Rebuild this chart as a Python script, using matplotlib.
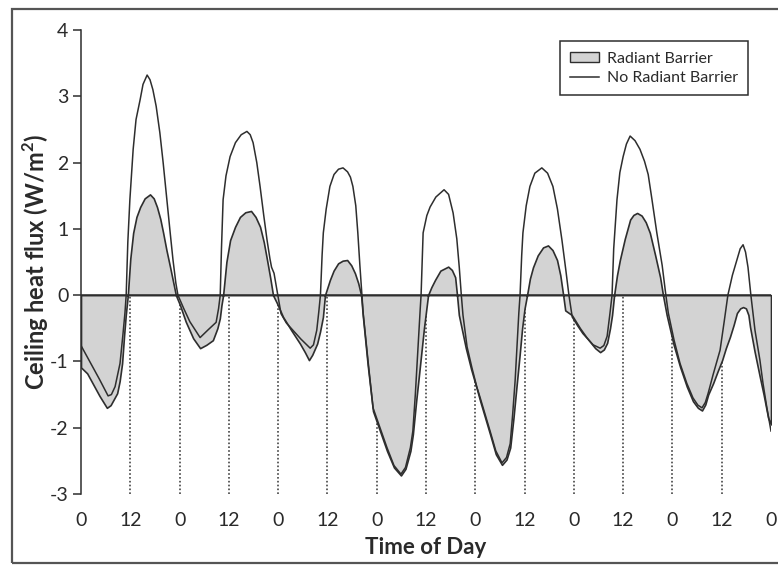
import matplotlib
matplotlib.use("Agg")
import matplotlib.pyplot as plt
from matplotlib.patches import Patch, Rectangle
from matplotlib.lines import Line2D

plt.rcParams['font.family'] = ['Lato', 'DejaVu Sans']

# ---- data (hours since start, ceiling heat flux W/m2) ----
hours_norb = [0, 1.5, 3.0, 4.5, 6.0, 6.6, 7.4, 8.3, 9.5, 10.2, 10.7, 11.0, 11.4, 11.9, 12.7, 13.4, 14.4, 15.1,
              16.1, 16.8, 17.5, 18.3, 19.2, 20.0, 20.9, 21.7, 22.4, 23.1, 23.6, 25.0, 26.5, 29.0, 31.0, 32.9,
              33.5, 33.9, 34.2, 34.6, 35.3, 36.3, 37.6, 39.0, 40.4, 41.2, 41.9, 42.8, 43.6, 44.5, 45.3, 46.0,
              46.4, 47.0, 47.5, 47.9, 48.7, 50.0, 51.6, 53.5, 55.8, 56.6, 57.4, 57.9, 58.3, 58.7, 59.0, 59.7, 60.6,
              61.6, 62.7, 63.8, 64.9, 65.6, 66.2, 66.9, 67.4, 67.9, 68.4, 68.7, 69.9, 71.1, 72.8, 74.5, 76.2,
              77.9, 79.0, 80.2, 80.8, 81.4, 82.05, 82.6, 82.8, 83.3, 84.2, 85.0, 86.4, 88.4, 89.5, 90.6, 91.5,
              92.1, 92.6, 93.0, 94.0, 95.2, 96.4, 97.2, 98.4, 99.6, 101.0, 102.5, 103.6, 104.5, 105.1, 105.7,
              106.3, 106.6, 106.9, 107.3, 107.6, 108.4, 109.3, 110.5, 112.2, 113.6, 114.9, 116.0, 117.1, 118.0,
              118.8, 119.6, 121.0, 122.2, 124.7, 126.4, 127.3, 128.1, 128.8, 129.3, 129.7, 130.5, 131.2, 132.0,
              132.8, 133.7, 134.9, 136.1, 137.2, 138.1, 139.0, 140.2, 141.5, 142.4, 143.0, 144.4, 145.85, 147.5,
              149.0, 150.2, 151.2, 152.0, 152.7, 153.9, 155.6, 156.6, 157.5, 158.6, 159.7, 160.5, 161.2, 161.8,
              162.4, 163.1, 164.1, 165.3, 166.05, 167.0, 168.0]
flux_norb = [-0.76, -0.93, -1.10, -1.27, -1.45, -1.52, -1.50, -1.38, -1.03, -0.60, -0.27, 0.0, 0.8, 1.44, 2.2, 2.65,
             2.95, 3.18, 3.32, 3.25, 3.1, 2.85, 2.45, 2.0, 1.44, 0.95, 0.53, 0.18, 0.0, -0.2, -0.4, -0.64, -0.52,
             -0.41, -0.2, 0.0, 0.7, 1.44, 1.8, 2.09, 2.3, 2.42, 2.47, 2.42, 2.3, 2.0, 1.64, 1.2, 0.83, 0.55,
             0.42, 0.33, 0.15, 0.0, -0.28, -0.42, -0.53, -0.66, -0.80, -0.75, -0.53, -0.25, 0.0, 0.6, 0.94, 1.3, 1.64,
             1.82, 1.9, 1.92, 1.86, 1.78, 1.64, 1.35, 0.94, 0.45, 0.0, -0.27, -1.0, -1.70, -2.0, -2.3, -2.57, -2.70,
             -2.60, -2.3, -2.05, -1.5, -0.78, -0.2, 0.0, 0.94, 1.2, 1.33, 1.48, 1.59, 1.52, 1.24, 0.85, 0.42, 0.0,
             -0.3, -0.78, -1.1, -1.39, -1.55, -1.8, -2.05, -2.35, -2.53, -2.45, -2.24, -1.8, -1.29, -0.6, -0.27,
             0.0, 0.6, 0.94, 1.35, 1.64, 1.84, 1.92, 1.84, 1.64, 1.3, 0.83, 0.4, 0.0, -0.33, -0.47, -0.58, -0.75,
             -0.80, -0.76, -0.62, -0.27, 0.0, 0.7, 1.44, 1.85, 2.09, 2.28, 2.40, 2.33, 2.2, 2.02, 1.82, 1.45, 0.94,
             0.45, 0.0, -0.27, -0.68, -1.03, -1.33, -1.55, -1.66, -1.70, -1.62, -1.48, -1.2, -0.83, -0.4, 0.0,
             0.3, 0.53, 0.7, 0.76, 0.65, 0.42, 0.0, -0.53, -0.98, -1.33, -1.7, -2.05]

hours_rb = [0, 1.5, 3.0, 4.5, 6.3, 7.2, 8.0, 8.8, 9.4, 10.0, 10.5, 10.9, 11.4, 12.0, 12.7, 13.5, 14.4, 15.5, 16.8,
            17.7, 18.5, 19.3, 20.0, 20.8, 21.7, 22.5, 23.1, 24.1, 25.5, 27.3, 29.0, 30.5, 32.1, 33.2, 33.8, 34.2,
            34.6, 35.4, 36.3, 37.5, 38.7, 40.0, 41.4, 42.5, 43.6, 44.5, 45.3, 46.1, 46.75, 47.7, 49.2, 51.2,
            53.3, 54.5, 55.5, 56.3, 57.5, 58.2, 58.9, 59.4, 60.6, 61.5, 62.6, 63.7, 64.8, 65.8, 66.7, 67.5, 68.2,
            68.6, 69.8, 71.1, 72.8, 74.5, 76.2, 77.9, 79.0, 80.2, 80.8, 81.6, 82.3, 83.5, 84.5, 85.3, 86.2, 87.5,
            89.4, 90.3, 91.1, 91.55, 92.0, 93.7, 95.0, 96.4, 97.2, 98.4, 99.6, 101.0, 102.5, 103.6, 104.5, 105.3,
            106.0, 106.8, 107.4, 108.0, 108.6, 109.3, 110.05, 111.2, 112.5, 113.7, 114.8, 115.9, 116.7, 117.4,
            117.9, 119.5, 120.5, 121.5, 123.0, 123.9, 125.2, 126.4, 127.3, 128.1, 128.8, 129.3, 129.8, 130.5,
            131.2, 132.4, 133.7, 134.5, 135.4, 136.5, 137.5, 138.5, 139.8, 141.0, 141.7, 142.6, 144.3, 145.85,
            147.5, 149.0, 150.2, 151.2, 152.0, 152.7, 153.9, 155.0, 156.1, 157.0, 158.0, 158.9, 159.7, 160.5,
            161.2, 161.9, 162.5, 162.9, 164.0, 165.3, 166.2, 167.3, 168.0]
flux_rb = [-1.09, -1.18, -1.35, -1.52, -1.70, -1.66, -1.57, -1.48, -1.3, -1.03, -0.6, -0.3, 0.0, 0.55, 0.94, 1.18,
           1.33, 1.46, 1.52, 1.46, 1.33, 1.15, 0.94, 0.68, 0.42, 0.18, 0.0, -0.15, -0.4, -0.65, -0.80, -0.75,
           -0.68, -0.5, -0.35, -0.15, 0.0, 0.5, 0.83, 1.03, 1.18, 1.25, 1.27, 1.18, 1.03, 0.8, 0.53, 0.25, 0.0,
           -0.12, -0.33, -0.53, -0.73, -0.86, -0.98, -0.9, -0.73, -0.55, -0.33, 0.0, 0.23, 0.37, 0.48, 0.52, 0.53,
           0.45, 0.33, 0.18, 0.0, -0.3, -1.05, -1.75, -2.05, -2.35, -2.6, -2.72, -2.62, -2.35, -2.1, -1.6, -1.2,
           -0.5, 0.0, 0.12, 0.23, 0.37, 0.43, 0.38, 0.27, 0.0, -0.3, -0.8, -1.12, -1.42, -1.6, -1.85, -2.1, -2.4,
           -2.56, -2.48, -2.3, -1.85, -1.4, -0.9, -0.5, -0.2, 0.0, 0.25, 0.42, 0.6, 0.72, 0.75, 0.68, 0.53, 0.3,
           0.0, -0.23, -0.30, -0.4, -0.5, -0.63, -0.70, -0.8, -0.86, -0.82, -0.72, -0.5, -0.3, 0.0, 0.3, 0.53,
           0.85, 1.14, 1.21, 1.24, 1.2, 1.1, 0.94, 0.6, 0.27, 0.0, -0.3, -0.75, -1.08, -1.38, -1.6, -1.7, -1.74,
           -1.65, -1.5, -1.33, -1.15, -0.98, -0.8, -0.63, -0.45, -0.27, -0.2, -0.18, -0.2, -0.3, -0.48, -0.85,
           -1.24, -1.5, -1.85, -1.95]

x_ticks = [0, 12, 24, 36, 48, 60, 72, 84, 96, 108, 120, 132, 144, 156, 168]
x_tick_labels = ['0', '12', '0', '12', '0', '12', '0', '12', '0', '12', '0', '12', '0', '12', '0']
y_ticks = [-3, -2, -1, 0, 1, 2, 3, 4]
y_tick_labels = ['-3', '-2', '-1', '0', '1', '2', '3', '4']

line_col = '#2e2e2e'
fill_col = '#d3d3d3'
text_col = '#2a2a2a'

fig = plt.figure(figsize=(7.78, 5.66), dpi=100)
fig.patch.set_facecolor('white')

# outer frame
fig.add_artist(Rectangle((12 / 778, 3 / 566), 1.0, 554 / 566, transform=fig.transFigure,
                         fill=False, edgecolor='#555555', lw=1.6, clip_on=False))

ax = fig.add_axes([81 / 778, 1 - 494 / 566, 690 / 778, 464 / 566])
ax.set_xlim(0, 168)
ax.set_ylim(-3, 4)

ax.fill_between(hours_rb, flux_rb, 0, facecolor=fill_col, edgecolor=line_col, lw=1.2, zorder=2)
ax.plot(hours_norb, flux_norb, color=line_col, lw=1.1, zorder=3)
ax.axhline(0, color=line_col, lw=1.1, zorder=4)
ax.vlines(x_ticks[1:-1], -3, 0, colors='#444444', linestyles=(0, (1, 1.3)), lw=1.2, zorder=1)

for s in ['top', 'right', 'bottom']:
    ax.spines[s].set_visible(False)
ax.spines['left'].set_color(line_col)
ax.spines['left'].set_linewidth(1.1)

ax.set_yticks(y_ticks)
ax.set_yticklabels(y_tick_labels, fontsize=14, color=text_col)
ax.tick_params(axis='y', direction='out', length=6, width=1.1, color=line_col, pad=3)
ax.set_xticks(x_ticks)
ax.set_xticklabels(x_tick_labels, fontsize=14, color=text_col)
ax.tick_params(axis='x', length=0, pad=13)

ax.set_xlabel('Time of Day', fontsize=16, fontweight='bold', color=text_col, labelpad=6)
ax.set_ylabel('Ceiling heat flux (W/m$^\\mathregular{2}$)', fontsize=17, fontweight='bold',
              color=text_col)
ax.yaxis.set_label_coords(-0.043, 0.5)

handles = [Patch(facecolor=fill_col, edgecolor=line_col, lw=1.0),
           Line2D([], [], color=line_col, lw=1.1)]
leg = ax.legend(handles, ['Radiant Barrier', 'No Radiant Barrier'], loc='upper right',
                bbox_to_anchor=(0.967, 0.976), borderaxespad=0, fancybox=False,
                edgecolor=line_col, fontsize=11.5, handlelength=1.8, handleheight=0.6,
                handletextpad=0.5, labelspacing=0.35, borderpad=0.65, framealpha=1)
leg.get_frame().set_linewidth(1.1)
for t in leg.get_texts():
    t.set_color(text_col)

fig.savefig('out.png', dpi=100, facecolor='white')
